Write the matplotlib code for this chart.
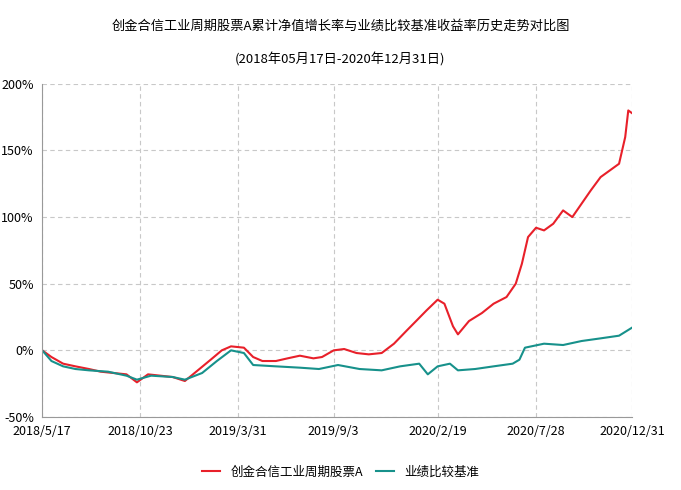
import matplotlib
matplotlib.use("Agg")
import matplotlib.pyplot as plt
import matplotlib.dates as mdates
import pandas as pd

plt.rcParams['font.family'] = ['Noto Sans CJK SC', 'DejaVu Sans']

# values (%)
fund_dates = ['2018-05-17', '2018-06-01', '2018-06-20', '2018-07-10', '2018-08-01', '2018-08-20',
              '2018-09-10', '2018-10-01', '2018-10-18', '2018-11-05', '2018-11-25', '2018-12-15',
              '2019-01-04', '2019-01-25', '2019-02-15', '2019-03-05', '2019-03-20', '2019-04-10',
              '2019-04-25', '2019-05-10', '2019-06-01', '2019-06-20', '2019-07-10', '2019-08-01',
              '2019-08-15', '2019-09-03', '2019-09-20', '2019-10-10', '2019-10-30', '2019-11-20',
              '2019-12-10', '2019-12-31', '2020-01-15', '2020-02-01', '2020-02-19', '2020-03-01',
              '2020-03-15', '2020-03-23', '2020-04-10', '2020-05-01', '2020-05-20', '2020-06-10',
              '2020-06-25', '2020-07-05', '2020-07-15', '2020-07-28', '2020-08-10', '2020-08-25',
              '2020-09-10', '2020-09-25', '2020-10-10', '2020-10-25', '2020-11-10', '2020-11-25',
              '2020-12-10', '2020-12-20', '2020-12-25', '2020-12-31']
fund_vals = [0, -5, -10, -12, -14, -16, -17, -18, -24, -18, -19, -20,
             -23, -15, -7, 0, 3, 2, -5, -8, -8, -6, -4, -6,
             -5, 0, 1, -2, -3, -2, 5, 15, 22, 30, 38, 35,
             18, 12, 22, 28, 35, 40, 50, 65, 85, 92, 90, 95,
             105, 100, 110, 120, 130, 135, 140, 160, 180, 178]

bench_dates = ['2018-05-17', '2018-06-01', '2018-06-20', '2018-07-10', '2018-08-01', '2018-09-01',
               '2018-10-01', '2018-10-18', '2018-11-10', '2018-12-15', '2019-01-04', '2019-02-01',
               '2019-02-25', '2019-03-20', '2019-04-10', '2019-04-25', '2019-06-01', '2019-07-10',
               '2019-08-10', '2019-09-10', '2019-10-15', '2019-11-20', '2019-12-20', '2020-01-20',
               '2020-02-03', '2020-02-19', '2020-03-10', '2020-03-23', '2020-04-20', '2020-05-20',
               '2020-06-20', '2020-07-01', '2020-07-10', '2020-08-10', '2020-09-10', '2020-10-10',
               '2020-11-10', '2020-12-10', '2020-12-31']
bench_vals = [0, -8, -12, -14, -15, -16, -19, -22, -19, -20, -22, -17,
              -8, 0, -2, -11, -12, -13, -14, -11, -14, -15, -12, -10,
              -18, -12, -10, -15, -14, -12, -10, -7, 2, 5, 4, 7,
              9, 11, 17]

ticks = ['2018-05-17', '2018-10-23', '2019-03-31', '2019-09-03', '2020-02-19', '2020-07-28', '2020-12-31']
tick_labels = ['2018/5/17', '2018/10/23', '2019/3/31', '2019/9/3', '2020/2/19', '2020/7/28', '2020/12/31']

fig = plt.figure(figsize=(6.81, 4.90), dpi=100)
ax = fig.add_axes([0.062, 0.149, 0.866, 0.68])
ax.plot(pd.to_datetime(fund_dates), fund_vals, color='#e8202a', lw=1.5, label='创金合信工业周期股票A')
ax.plot(pd.to_datetime(bench_dates), bench_vals, color='#17918b', lw=1.5, label='业绩比较基准')

ax.set_xlim(pd.Timestamp('2018-05-17'), pd.Timestamp('2020-12-31'))
ax.set_ylim(-50, 200)
ax.set_yticks(range(-50, 201, 50))
ax.set_yticklabels([f'{v}%' for v in range(-50, 201, 50)])
ax.set_xticks(pd.to_datetime(ticks))
ax.set_xticklabels(tick_labels)
ax.tick_params(labelsize=9, length=0, pad=6)
ax.grid(True, color='#c8c8c8', ls=(0, (4, 3)), lw=0.8)
for s in ['top', 'right']:
    ax.spines[s].set_visible(False)
for s in ['left', 'bottom']:
    ax.spines[s].set_color('#999999')

fig.text(0.5, 0.94, '创金合信工业周期股票A累计净值增长率与业绩比较基准收益率历史走势对比图', ha='center', fontsize=9.5)
fig.text(0.5, 0.87, '(2018年05月17日-2020年12月31日)', ha='center', fontsize=9.5)
fig.legend(loc='lower center', bbox_to_anchor=(0.5, 0.0), ncol=2, frameon=False, fontsize=9,
           handlelength=1.5, columnspacing=1.0)
fig.savefig('out.png')
